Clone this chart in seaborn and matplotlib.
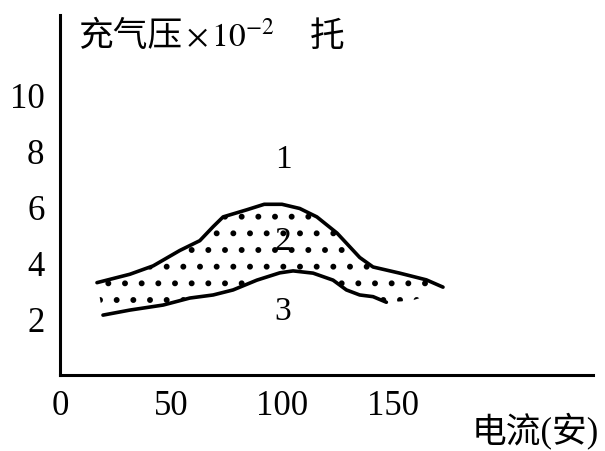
import numpy as np
import matplotlib
matplotlib.use("Agg")
import matplotlib.pyplot as plt
import seaborn as sns

# curve 1: upper boundary of the working region (current in A, pressure x1e-2 Torr)
upper_current = [16.7, 31.5, 42, 54, 63, 69, 73.5, 84, 92, 100, 108, 115.7, 124.8,
                 135, 141, 153, 165, 172.5]
upper_pressure = [3.3, 3.6, 3.9, 4.45, 4.8, 5.3, 5.65, 5.9, 6.1, 6.1, 5.95, 5.65, 5.07,
                  4.2, 3.86, 3.64, 3.4, 3.14]

# curve 3: lower boundary
lower_current = [19.4, 31.5, 46.5, 58.5, 69, 78, 88.7, 99, 105, 114, 123, 129, 135,
                 141, 147]
lower_pressure = [2.14, 2.32, 2.5, 2.75, 2.86, 3.04, 3.39, 3.65, 3.72, 3.64, 3.39,
                  3.04, 2.86, 2.8, 2.6]

# dotted region 2 continues a little past the end of curve 3
tail_current = [158, 172.5]
tail_pressure = [2.65, 3.0]

region_labels = ['1', '2', '3']
label_current = [100.5, 100.5, 100.5]
label_pressure = [7.7, 4.75, 2.25]

x_ticks = [0, 50, 100, 150]
y_ticks = [2, 4, 6, 8, 10]

sns.set_style("white")
plt.rcParams['font.family'] = ['Liberation Serif', 'Noto Sans CJK SC', 'DejaVu Sans']
plt.rcParams['mathtext.fontset'] = 'stix'
plt.rcParams['hatch.linewidth'] = 1.8
plt.rcParams['text.color'] = 'black'

fig = plt.figure(figsize=(6.05, 4.51), dpi=100)
ax = fig.add_axes([0.099, 0.1685, 0.881, 0.798])

# stippled region between the curves
poly_x = np.r_[upper_current, tail_current[::-1], lower_current[::-1]]
poly_y = np.r_[upper_pressure, tail_pressure[::-1], lower_pressure[::-1]]
ax.fill(poly_x, poly_y, facecolor='none', edgecolor='black', linewidth=0, hatch='.')

sns.lineplot(x=upper_current, y=upper_pressure, ax=ax, color='black', linewidth=2.6,
             sort=False)
sns.lineplot(x=lower_current, y=lower_pressure, ax=ax, color='black', linewidth=2.6,
             sort=False)

for lab, cx, cy in zip(region_labels, label_current, label_pressure):
    ax.text(cx, cy, lab, fontsize=24, ha='center', va='center', color='black')

ax.set_xlim(0, 240)
ax.set_ylim(0, 12.86)
ax.set_xticks(x_ticks)
ax.set_yticks(y_ticks)
ax.tick_params(axis='both', labelsize=25, direction='out', color='black',
               labelcolor='black', width=1.5)
ax.tick_params(axis='x', length=3, pad=8)
ax.tick_params(axis='y', length=6, pad=5)

for side in ['top', 'right']:
    ax.spines[side].set_visible(False)
for side in ['left', 'bottom']:
    ax.spines[side].set_linewidth(2.2)
    ax.spines[side].set_color('black')

# y-axis title in pieces so the CJK glyphs are not sent through mathtext
t1 = fig.text(0.129, 0.918, '充气压', fontsize=25, ha='left', va='center',
              family=['Noto Sans CJK SC'])
t2 = ax.annotate(r'$\times\,10^{-2}$', xy=(1, 0.5), xycoords=t1, xytext=(3, 0),
                 textcoords='offset points', fontsize=24, ha='left', va='center',
                 annotation_clip=False)
ax.annotate('托', xy=(1, 0.5), xycoords=t2, xytext=(25, 0),
            textcoords='offset points', fontsize=25, ha='left', va='center',
            family=['Noto Sans CJK SC'], annotation_clip=False)
fig.text(0.99, 0.045, '电流(安)', fontsize=25, ha='right', va='center')

fig.savefig('out.png', dpi=100, facecolor='white')
plt.close(fig)
